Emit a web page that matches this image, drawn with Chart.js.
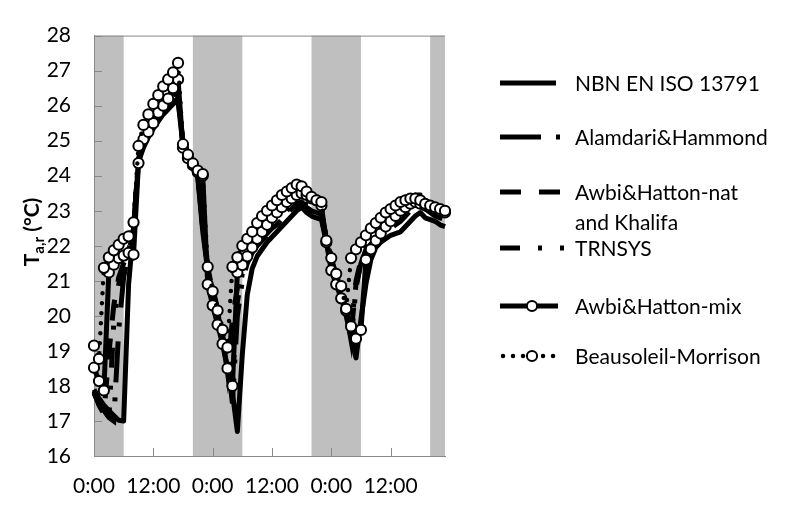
<!DOCTYPE html>
<html>
<head>
<meta charset="utf-8">
<script src="https://cdn.jsdelivr.net/npm/chart.js@4.4.1/dist/chart.umd.min.js"></script>
<style>
  html, body { margin: 0; padding: 0; background: #ffffff; }
  #wrap { width: 793px; height: 506px; position: relative; }
</style>
</head>
<body>
<div id="wrap"><canvas id="chart"></canvas></div>
<script>
// Hourly time steps over three days (hours since 0:00 of day 1)
const hours = Array.from({ length: 72 }, (_, i) => i);

// Night periods (hours), shaded grey
const nightStart = [0, 20, 44, 68];
const nightEnd   = [6, 30, 54, 71];

// Axis ticks
const xTickHours  = [0, 12, 24, 36, 48, 60];
const xTickLabels = ['0:00', '12:00', '0:00', '12:00', '0:00', '12:00'];
const yMin = 16, yMax = 28;

// Series names
const seriesNames = [
  'NBN EN ISO 13791',
  'Alamdari&Hammond',
  'Awbi&Hatton-nat and Khalifa',
  'TRNSYS',
  'Awbi&Hatton-mix',
  'Beausoleil-Morrison'
];

// Room air temperature T_a,r (°C), one value per hour
const nbnEnIso13791 = [
  17.9, 17.65, 17.45, 17.3, 17.15, 17.02, 17.0, 20.9, 22.5, 24.4,
  24.8, 25.1, 25.35, 25.55, 25.75, 25.9, 26.05, 26.15, 24.85, 24.45,
  24.2, 23.95, 22.4, 21.3, 20.6, 20.0, 19.3, 18.5, 17.8, 16.7,
  18.9, 20.6, 21.35, 21.7, 21.9, 22.1, 22.25, 22.4, 22.55, 22.7,
  22.85, 23.0, 23.1, 22.95, 22.85, 22.8, 22.75, 22.1, 21.55, 21.05,
  20.55, 20.0, 19.4, 18.8, 19.9, 20.9, 21.6, 21.95, 22.1, 22.2,
  22.3, 22.35, 22.4, 22.55, 22.7, 22.85, 22.95, 22.8, 22.75, 22.7,
  22.6, 22.55
];
const alamdariHammond = [
  17.85, 17.55, 17.3, 17.1, 17.0, 19.6, 21.1, 21.8, 22.5, 24.5,
  24.9, 25.2, 25.45, 25.65, 25.85, 26.0, 26.15, 26.3, 24.9, 24.5,
  24.25, 24.0, 22.5, 21.4, 20.7, 20.1, 19.4, 18.7, 17.5, 20.0,
  21.0, 21.5, 21.8, 22.0, 22.15, 22.3, 22.45, 22.6, 22.75, 22.9,
  23.05, 23.2, 23.25, 23.1, 23.0, 22.95, 22.9, 22.2, 21.65, 21.15,
  20.65, 20.1, 19.3, 20.8, 21.5, 21.9, 22.1, 22.3, 22.45, 22.6,
  22.75, 22.9, 23.05, 23.2, 23.35, 23.45, 23.45, 23.3, 23.2, 23.1,
  23.0, 22.95
];
const awbiHattonNat = [
  17.8, 17.45, 17.2, 18.9, 20.3, 21.1, 21.5, 21.8, 22.45, 24.45,
  24.85, 25.15, 25.4, 25.6, 25.8, 25.95, 26.1, 26.2, 24.9, 24.5,
  24.25, 24.0, 22.5, 21.45, 20.75, 20.15, 19.5, 18.4, 19.9, 20.8,
  21.3, 21.6, 21.85, 22.05, 22.2, 22.35, 22.5, 22.6, 22.75, 22.85,
  23.0, 23.1, 23.15, 23.0, 22.9, 22.85, 22.8, 22.15, 21.6, 21.1,
  20.6, 20.05, 19.5, 20.9, 21.5, 21.85, 22.05, 22.2, 22.3, 22.4,
  22.5, 22.6, 22.7, 22.85, 23.0, 23.1, 23.15, 23.05, 22.95, 22.85,
  22.8, 22.75
];
const trnsys = [
  17.8, 17.5, 17.25, 17.05, 19.8, 20.9, 21.4, 21.85, 22.5, 24.5,
  24.95, 25.3, 25.55, 25.75, 25.95, 26.1, 26.25, 26.4, 24.9, 24.5,
  24.25, 24.05, 22.6, 21.5, 20.8, 20.2, 19.5, 18.9, 18.1, 20.4,
  21.2, 21.6, 21.9, 22.1, 22.25, 22.4, 22.55, 22.7, 22.85, 23.0,
  23.15, 23.25, 23.3, 23.15, 23.05, 23.0, 22.95, 22.25, 21.7, 21.2,
  20.7, 20.2, 19.6, 21.0, 21.6, 21.95, 22.15, 22.3, 22.45, 22.6,
  22.75, 22.85, 22.95, 23.1, 23.2, 23.3, 23.3, 23.2, 23.1, 23.0,
  22.95, 22.9
];
const awbiHattonMix = [
  18.52, 18.14, 17.87, 21.24, 21.46, 21.65, 21.72, 21.8, 21.75, 24.36,
  25.04, 25.25, 25.5, 25.8, 26.0, 26.2, 26.5, 26.75, 24.8, 24.5,
  24.3, 24.1, 24.0, 20.9, 20.3, 19.75, 19.2, 18.5, 18.0, 21.24,
  21.45, 21.7, 21.95, 22.2, 22.4, 22.6, 22.8, 22.95, 23.1, 23.25,
  23.35, 23.45, 23.5, 23.45, 23.35, 23.3, 23.15, 22.1, 21.3, 20.9,
  20.5, 20.15, 19.7, 19.35, 19.6, 21.6, 21.9, 22.15, 22.35, 22.55,
  22.7, 22.85, 23.0, 23.1, 23.2, 23.25, 23.2, 23.15, 23.1, 23.05,
  23.0, 22.95
];
const beausoleilMorrison = [
  19.15, 18.77, 21.37, 21.67, 21.87, 22.03, 22.2, 22.27, 22.67, 24.85,
  25.45, 25.75, 26.05, 26.3, 26.55, 26.75, 26.95, 27.22, 24.9, 24.6,
  24.35, 24.15, 24.05, 21.4, 20.7, 20.15, 19.6, 19.1, 21.4, 21.67,
  22.0, 22.2, 22.4, 22.65, 22.85, 23.0, 23.15, 23.3, 23.45, 23.55,
  23.65, 23.75, 23.7, 23.55, 23.4, 23.3, 23.25, 22.15, 21.65, 21.2,
  20.85, 20.2, 21.65, 21.9, 22.1, 22.3, 22.5, 22.65, 22.8, 22.95,
  23.05, 23.15, 23.25, 23.3, 23.35, 23.35, 23.3, 23.2, 23.15, 23.1,
  23.05, 23.0
];

const FONT = 'Lato, "Open Sans", sans-serif';
const AXIS_GREY = '#888888';
const BAND_GREY = '#bfbfbf';

const seriesValues = [nbnEnIso13791, alamdariHammond, awbiHattonNat, trnsys, awbiHattonMix, beausoleilMorrison];

// Line styles per series
const styles = [
  { width: 5,   dash: [],                      cap: 'butt',  join: 'round', marker: false },
  { width: 5,   dash: [41, 15, 4, 15],         cap: 'butt',  join: 'miter', marker: false },
  { width: 5,   dash: [21, 18],                cap: 'butt',  join: 'miter', marker: false },
  { width: 5,   dash: [20, 18, 4, 18, 4, 18],  cap: 'butt',  join: 'miter', marker: false },
  { width: 5,   dash: [],                      cap: 'butt',  join: 'round', marker: true  },
  { width: 4.5, dash: [0.01, 10],              cap: 'round', join: 'round', marker: true  }
];

const datasets = seriesValues.map((vals, i) => {
  const s = styles[i];
  return {
    label: seriesNames[i],
    data: hours.map((h, k) => ({ x: h, y: vals[k] })),
    borderColor: '#000000',
    borderWidth: s.width,
    borderDash: s.dash,
    borderCapStyle: s.cap,
    borderJoinStyle: s.join,
    tension: 0,
    fill: false,
    clip: false,
    pointRadius: s.marker ? 5.1 : 0,
    pointHoverRadius: s.marker ? 5.1 : 0,
    pointStyle: 'circle',
    pointBackgroundColor: '#ffffff',
    pointBorderColor: '#000000',
    pointBorderWidth: 2,
    order: seriesValues.length - i
  };
});

// Grey night bands behind the axes and data
const nightBands = {
  id: 'nightBands',
  beforeDraw(chart) {
    const { ctx, chartArea: a, scales: { x } } = chart;
    ctx.save();
    ctx.fillStyle = BAND_GREY;
    nightStart.forEach((s, i) => {
      const x0 = x.getPixelForValue(s);
      const x1 = x.getPixelForValue(nightEnd[i]);
      ctx.fillRect(x0, a.top, x1 - x0, a.bottom - a.top);
    });
    ctx.restore();
  }
};

// Top border line and inside tick marks
const axisMarks = {
  id: 'axisMarks',
  beforeDatasetsDraw(chart) {
    const { ctx, chartArea: a, scales: { x, y } } = chart;
    ctx.save();
    ctx.strokeStyle = AXIS_GREY;
    ctx.lineWidth = 1;
    ctx.beginPath();
    ctx.moveTo(a.left, a.top + 0.5);
    ctx.lineTo(a.right, a.top + 0.5);
    y.ticks.forEach(t => {
      const py = Math.round(y.getPixelForValue(t.value)) + 0.5;
      ctx.moveTo(a.left, py);
      ctx.lineTo(a.left + 8, py);
    });
    x.ticks.forEach(t => {
      const px = Math.round(x.getPixelForValue(t.value)) + 0.5;
      ctx.moveTo(px, a.bottom);
      ctx.lineTo(px, a.bottom - 8);
    });
    ctx.stroke();
    ctx.restore();
  }
};

// Legend on the right: sample line + label for each series
const legendRowY = [83, 137, 192, 248, 306, 356];
const legendLineEnd = [556, 560, 560, 564, 558, 556];
const legendLabelLines = [
  ['NBN EN ISO 13791'],
  ['Alamdari&Hammond'],
  ['Awbi&Hatton-nat', 'and Khalifa'],
  ['TRNSYS'],
  ['Awbi&Hatton-mix'],
  ['Beausoleil-Morrison']
];
const sideLegend = {
  id: 'sideLegend',
  afterDraw(chart) {
    const ctx = chart.ctx;
    ctx.save();
    chart.data.datasets.forEach((ds, i) => {
      const y = legendRowY[i];
      ctx.strokeStyle = '#000';
      ctx.lineWidth = ds.borderWidth;
      ctx.lineCap = ds.borderCapStyle;
      ctx.setLineDash(ds.borderDash);
      const x0 = ds.borderCapStyle === 'round' ? 503 : 500;
      ctx.beginPath();
      ctx.moveTo(x0, y);
      ctx.lineTo(legendLineEnd[i], y);
      ctx.stroke();
      ctx.setLineDash([]);
      if (ds.pointRadius > 0) {
        ctx.beginPath();
        ctx.arc(532, y, ds.pointRadius, 0, Math.PI * 2);
        ctx.fillStyle = '#fff';
        ctx.fill();
        ctx.lineWidth = ds.pointBorderWidth;
        ctx.stroke();
      }
      ctx.fillStyle = '#000';
      ctx.font = '21px ' + FONT;
      ctx.textBaseline = 'alphabetic';
      ctx.textAlign = 'left';
      legendLabelLines[i].forEach((line, k) => {
        ctx.fillText(line, 575, y + 8 + k * 30);
      });
    });
    ctx.restore();
  }
};

// Rotated y-axis title with subscript: T_a,r (°C)
const yTitle = {
  id: 'yTitle',
  afterDraw(chart) {
    const ctx = chart.ctx;
    const main = 'bold 21px ' + FONT;
    const sub = 'bold 15px ' + FONT;
    ctx.save();
    ctx.font = main;
    const wT = ctx.measureText('T').width;
    const wU = ctx.measureText(' (°C)').width;
    ctx.font = sub;
    const wS = ctx.measureText('a,r').width;
    const total = wT + wS + wU;
    ctx.translate(39, 232 + total / 2);
    ctx.rotate(-Math.PI / 2);
    ctx.fillStyle = '#000';
    ctx.textBaseline = 'alphabetic';
    ctx.textAlign = 'left';
    ctx.font = main;
    ctx.fillText('T', 0, 0);
    ctx.font = sub;
    ctx.fillText('a,r', wT, 5);
    ctx.font = main;
    ctx.fillText(' (°C)', wT + wS, 0);
    ctx.restore();
  }
};

new Chart(document.getElementById('chart'), {
  type: 'line',
  data: { datasets },
  options: {
    responsive: true,
    maintainAspectRatio: false,
    animation: false,
    devicePixelRatio: 1,
    layout: { padding: { left: 0, right: 348, top: 14, bottom: 0 } },
    plugins: { legend: { display: false }, tooltip: { enabled: false } },
    events: [],
    scales: {
      x: {
        type: 'linear',
        min: 0,
        max: hours[hours.length - 1],
        grid: { display: false, drawTicks: false },
        border: { display: true, color: AXIS_GREY, width: 1 },
        afterBuildTicks(scale) { scale.ticks = xTickHours.map(v => ({ value: v })); },
        ticks: {
          autoSkip: false,
          maxRotation: 0,
          padding: 18,
          color: '#000',
          font: { family: FONT, size: 21 },
          callback: (v) => xTickLabels[xTickHours.indexOf(v)]
        },
        afterFit(scale) { scale.height = 50; }
      },
      y: {
        min: yMin,
        max: yMax,
        grid: { display: false, drawTicks: false },
        border: { display: true, color: AXIS_GREY, width: 1 },
        ticks: {
          stepSize: 1,
          padding: 23,
          color: '#000',
          font: { family: FONT, size: 21 }
        },
        afterFit(scale) { scale.width = 94; }
      }
    }
  },
  plugins: [nightBands, axisMarks, sideLegend, yTitle]
});
</script>
</body>
</html>
